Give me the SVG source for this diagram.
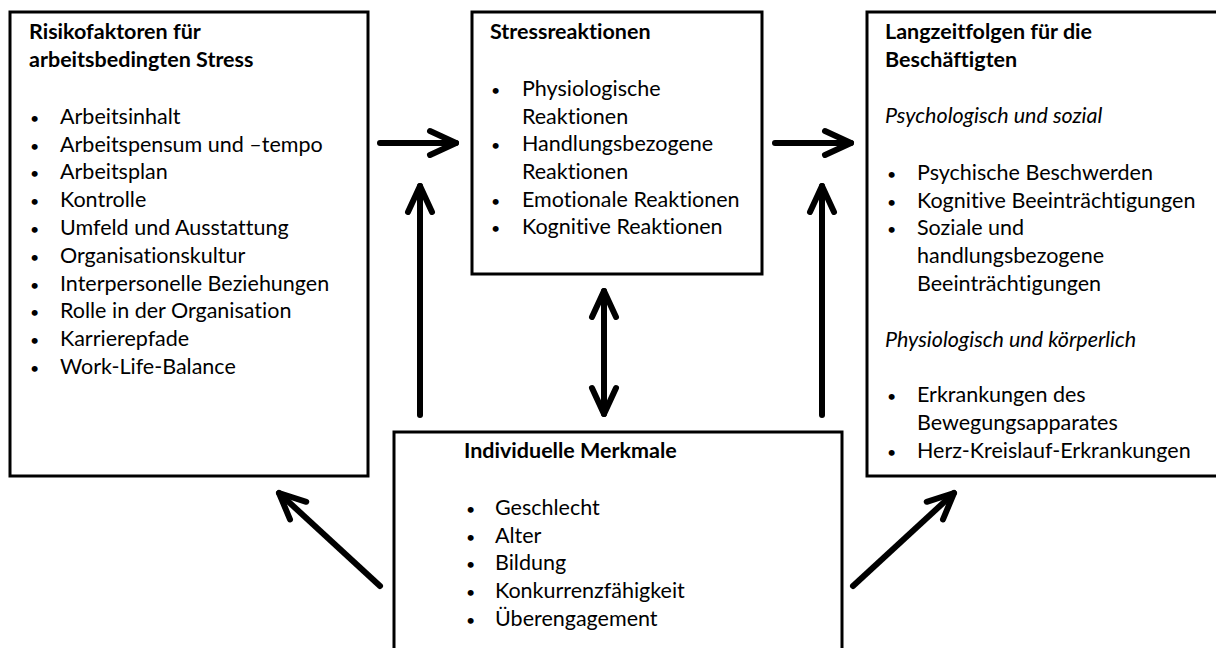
<svg xmlns="http://www.w3.org/2000/svg" width="1216" height="648" viewBox="0 0 1216 648">
<style>
.box{fill:#fff;stroke:#000;stroke-width:3}
text{font-family:Lato,"Open Sans","Liberation Sans",sans-serif;font-size:21.5px;fill:#000;font-variant-ligatures:none;font-feature-settings:"liga" 0,"clig" 0}
.b{font-weight:bold}
.i{font-style:italic}
.d{font-size:16px}
.arr{fill:none;stroke:#000;stroke-width:6;stroke-linecap:round;stroke-linejoin:round}
</style>
<defs>
<marker id="head" viewBox="-32 -18 38 36" markerWidth="38" markerHeight="36" refX="0" refY="0" markerUnits="userSpaceOnUse" orient="auto-start-reverse">
<path d="M-26,-12 L0,0 L-26,12" fill="none" stroke="#000" stroke-width="6" stroke-linecap="round" stroke-linejoin="round"/>
</marker>
</defs>
<rect width="1216" height="648" fill="#fff"/>

<g id="risikofaktoren">
<rect class="box" x="10" y="12" width="358" height="464"/>
<text class="b" x="29" y="39">Risikofaktoren für</text>
<text class="b" x="29" y="67">arbeitsbedingten Stress</text>
<g>
<text class="d" x="30" y="124">•</text><text x="60" y="124">Arbeitsinhalt</text>
<text class="d" x="30" y="152">•</text><text x="60" y="152">Arbeitspensum und –tempo</text>
<text class="d" x="30" y="179">•</text><text x="60" y="179">Arbeitsplan</text>
<text class="d" x="30" y="207">•</text><text x="60" y="207">Kontrolle</text>
<text class="d" x="30" y="235">•</text><text x="60" y="235">Umfeld und Ausstattung</text>
<text class="d" x="30" y="263">•</text><text x="60" y="263">Organisationskultur</text>
<text class="d" x="30" y="291">•</text><text x="60" y="291">Interpersonelle Beziehungen</text>
<text class="d" x="30" y="318">•</text><text x="60" y="318">Rolle in der Organisation</text>
<text class="d" x="30" y="346">•</text><text x="60" y="346">Karrierepfade</text>
<text class="d" x="30" y="374">•</text><text x="60" y="374">Work-Life-Balance</text>
</g>
</g>

<g id="stressreaktionen">
<rect class="box" x="472" y="12" width="290" height="262"/>
<text class="b" x="490" y="39">Stressreaktionen</text>
<text class="d" x="491" y="96">•</text><text x="522" y="96">Physiologische</text>
<text x="522" y="124">Reaktionen</text>
<text class="d" x="491" y="151">•</text><text x="522" y="151">Handlungsbezogene</text>
<text x="522" y="179">Reaktionen</text>
<text class="d" x="491" y="207">•</text><text x="522" y="207">Emotionale Reaktionen</text>
<text class="d" x="491" y="234">•</text><text x="522" y="234">Kognitive Reaktionen</text>
</g>

<g id="langzeitfolgen">
<rect class="box" x="867" y="12" width="360" height="464"/>
<text class="b" x="885" y="39">Langzeitfolgen für die</text>
<text class="b" x="885" y="67">Beschäftigten</text>
<text class="i" x="885" y="123">Psychologisch und sozial</text>
<text class="d" x="887" y="180">•</text><text x="917" y="180">Psychische Beschwerden</text>
<text class="d" x="887" y="208">•</text><text x="917" y="208">Kognitive Beeinträchtigungen</text>
<text class="d" x="887" y="235">•</text><text x="917" y="235">Soziale und</text>
<text x="917" y="263">handlungsbezogene</text>
<text x="917" y="291">Beeinträchtigungen</text>
<text class="i" x="885" y="347">Physiologisch und körperlich</text>
<text class="d" x="887" y="402">•</text><text x="917" y="402">Erkrankungen des</text>
<text x="917" y="430">Bewegungsapparates</text>
<text class="d" x="887" y="458">•</text><text x="917" y="458">Herz-Kreislauf-Erkrankungen</text>
</g>

<g id="individuelle-merkmale">
<rect class="box" x="394" y="432" width="448" height="230"/>
<text class="b" x="464" y="458">Individuelle Merkmale</text>
<text class="d" x="466" y="515">•</text><text x="495" y="515">Geschlecht</text>
<text class="d" x="466" y="543">•</text><text x="495" y="543">Alter</text>
<text class="d" x="466" y="570">•</text><text x="495" y="570">Bildung</text>
<text class="d" x="466" y="598">•</text><text x="495" y="598">Konkurrenzfähigkeit</text>
<text class="d" x="466" y="626">•</text><text x="495" y="626">Überengagement</text>
</g>

<g id="connectors">
<path class="arr" d="M380,143 L456,143" marker-end="url(#head)"/>
<path class="arr" d="M775,143 L851,143" marker-end="url(#head)"/>
<path class="arr" d="M420,415 L420,186" marker-end="url(#head)"/>
<path class="arr" d="M822,415 L822,186" marker-end="url(#head)"/>
<path class="arr" d="M604,291 L604,414" marker-start="url(#head)" marker-end="url(#head)"/>
<path class="arr" d="M380,586 L279,493" marker-end="url(#head)"/>
<path class="arr" d="M853,586 L954,493" marker-end="url(#head)"/>
</g>
</svg>
